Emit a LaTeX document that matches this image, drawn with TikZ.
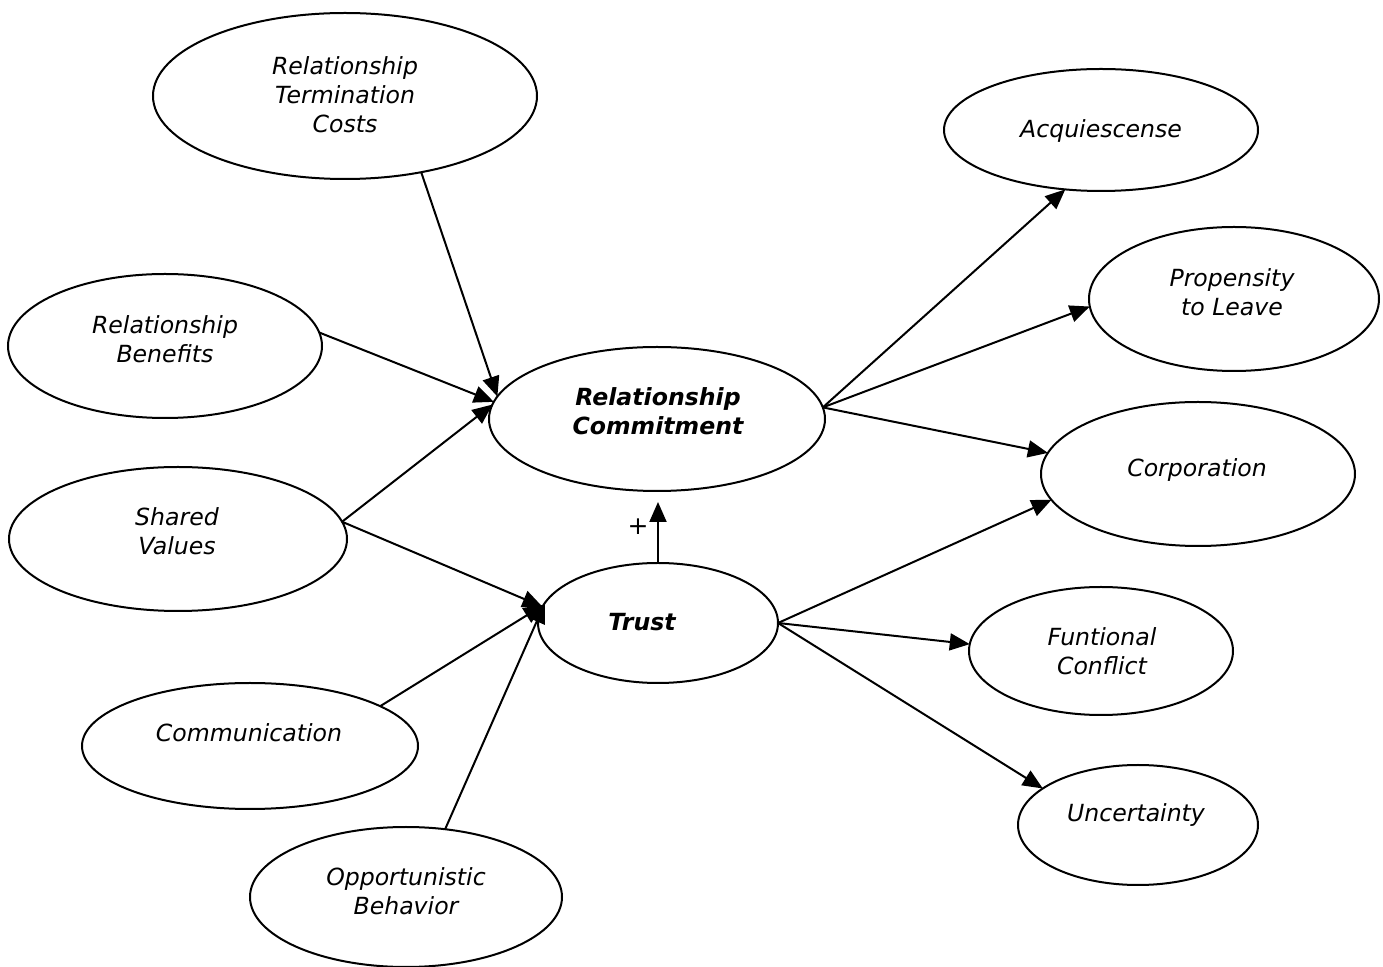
\documentclass[tikz,border=0pt]{standalone}
\usepackage{fontspec}
\newfontfamily\verd{DejaVu Sans}[ItalicFont={DejaVu Sans Oblique},BoldFont={DejaVu Sans Bold},BoldItalicFont={DejaVu Sans Bold Oblique}]
\usetikzlibrary{shapes.geometric,arrows.meta}
\begin{document}
\begin{tikzpicture}[x=0.5pt,y=-0.5pt,
  ell/.style={ellipse, draw, line width=1pt, inner sep=0pt, outer sep=0pt},
  lbl/.style={font=\verd\itshape\fontsize{11.8pt}{14.5pt}\selectfont, align=center, inner sep=0pt},
  blbl/.style={font=\verd\bfseries\itshape\fontsize{11.8pt}{14.5pt}\selectfont, align=center, inner sep=0pt},
  conn/.style={line width=1pt, -{Triangle[length=10pt,width=8.5pt]}}]
\fill[white] (0,0) rectangle (1383,967);
\useasboundingbox (0,0) rectangle (1383,967);
% ellipses
\node[ell, minimum width=192pt, minimum height=83pt] (RTC) at (345,96) {};
\node[ell, minimum width=157pt, minimum height=61pt] (Acq) at (1101,130) {};
\node[ell, minimum width=145pt, minimum height=72pt] (Prop) at (1234,299) {};
\node[ell, minimum width=157pt, minimum height=72pt] (RB) at (165,346) {};
\node[ell, minimum width=168pt, minimum height=72pt] (RC) at (657,419) {};
\node[ell, minimum width=157pt, minimum height=72pt] (Corp) at (1198,474) {};
\node[ell, minimum width=169pt, minimum height=72pt] (SV) at (178,539) {};
\node[ell, minimum width=120pt, minimum height=60pt] (Trust) at (658,623) {};
\node[ell, minimum width=132pt, minimum height=64pt] (FC) at (1101,651) {};
\node[ell, minimum width=168pt, minimum height=63pt] (Comm) at (250,746) {};
\node[ell, minimum width=120pt, minimum height=60pt] (Unc) at (1138,825) {};
\node[ell, minimum width=156pt, minimum height=70pt] (Opp) at (406,897) {};
% texts
\node[lbl] (RTCt) at (345,95) {Relationship\\Termination\\Costs};
\node[lbl] (Acqt) at (1101,131) {Acquiescense};
\node[lbl] (Propt) at (1232,292) {Propensity\\to Leave};
\node[lbl] (RBt) at (165,339) {Relationship\\Benefits};
\node[blbl] (RCt) at (658,411) {Relationship\\Commitment};
\node[lbl] (Corpt) at (1197,470) {Corporation};
\node[lbl] (SVt) at (177,531) {Shared\\Values};
\node[blbl] (Trustt) at (642,622) {Trust};
\node[lbl] (FCt) at (1102,651) {Funtional\\Conflict};
\node[lbl] (Commt) at (249,733) {Communication};
\node[lbl] (Unct) at (1136,815) {Uncertainty};
\node[lbl] (Oppt) at (406,891) {Opportunistic\\Behavior};
\node[inner sep=0pt, font=\verd\fontsize{12.5pt}{15pt}\selectfont] (plus) at (638,527) {+};
% connectors
\draw[conn] (RTC.-45) -- (RC.172.5);
\draw[conn] (RB.5) -- (RC.174);
\draw[conn] (SV.6) -- (RC.175.5);
\draw[conn] (SV.6) -- (Trust.172);
\draw[conn] (Comm.17) -- (Trust.171);
\draw[conn] (Opp.60) -- (Trust.170);
\draw[conn, shorten >=5.5pt] (Trust.north) -- (Trust.north |- RC.south);
\draw[conn] (RC.4.7) -- (Acq.-121.4);
\draw[conn] (RC.4.7) -- (Prop.183.6);
\draw[conn] (RC.4.7) -- (Corp.172);
\draw[conn] (Trust.east) -- (Corp.190);
\draw[conn] (Trust.east) -- (FC.177.4);
\draw[conn] (Trust.east) -- (Unc.159);
\end{tikzpicture}
\end{document}
